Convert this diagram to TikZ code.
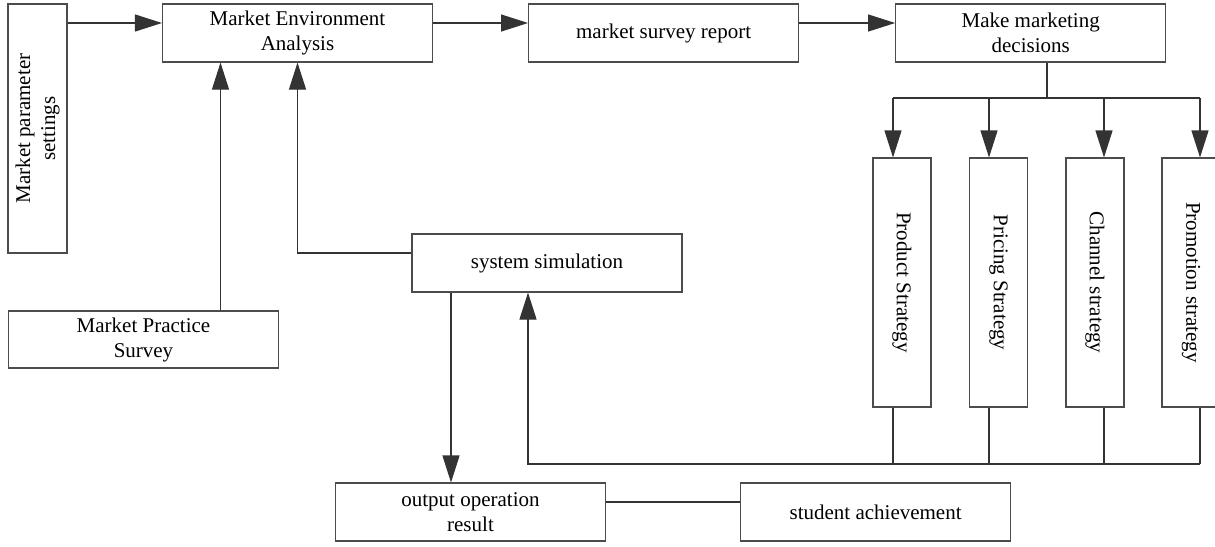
\documentclass[tikz,border=0pt]{standalone}
\usepackage{fontspec}
\setmainfont{Liberation Serif}
\usetikzlibrary{arrows.meta,positioning}

\begin{document}
\begin{tikzpicture}[x=1pt,y=-1pt,box/.style={draw=black!70,line width=1.1pt,align=center,minimum width=270pt,minimum height=58pt,inner sep=0pt,font=\fontsize{21}{25}\selectfont},vbox/.style={box,minimum width=249pt},link/.style={draw=black!80,line width=1.1pt},>={Triangle[length=27pt,width=17pt]}]
\useasboundingbox (0,0) rectangle (1215,546);
\node[vbox,rotate=90,minimum height=59pt] (par) at (37.5,128.5) {Market parameter\\settings};
\node[box] (mea) at (297.5,33) {Market Environment\\Analysis};
\node[box,right=95pt of mea] (msr) {market survey report};
\node[box,right=96pt of msr] (mmd) {Make marketing\\decisions};
\node[vbox,rotate=-90] (prod) at (902,282.5) {Product Strategy};
\node[vbox,rotate=-90] (pric) at (998.5,282.5) {Pricing Strategy};
\node[vbox,rotate=-90] (chan) at (1095,282.5) {Channel strategy};
\node[vbox,rotate=-90] (prom) at (1191,282.5) {Promotion strategy};
\node[box] (ss) at (547,263) {system simulation};
\node[box,minimum height=57pt] (mps) at (143.5,339.5) {Market Practice\\Survey};
\node[box] (oor) at (470.5,512) {output operation\\result};
\node[box,right=134pt of oor] (sa) {student achievement};
\coordinate (lane) at (0,23);
\coordinate (fork) at (1047,98);
\coordinate (bus) at (528,464);
\foreach \a/\b in {par.south/mea.west,mea.east/msr.west,msr.east/mmd.west}{\draw[link,->] (\a |- lane)--(\b |- lane);}
\draw[link] (mmd.south -| fork)--(fork);
\draw[link] ([xshift=-9pt]prod.west |- fork)--([xshift=9pt]prom.west |- fork);
\foreach \n/\dx in {prod/-9,pric/-9.5,chan/9,prom/9}{
  \draw[link,->] ([xshift=\dx pt]\n.west |- fork)--([xshift=\dx pt]\n.west);
  \draw[link] ([xshift=\dx pt]\n.east)--([xshift=\dx pt]\n.east |- bus);}
\draw[link,->] ([xshift=9pt]prom.east |- bus)--(bus)--(bus |- ss.south);
\draw[link,->] ([yshift=10pt]ss.west) -| (mea.south);
\draw[link,->] ([xshift=77pt]mps.north)--([xshift=77pt]mps.north |- mea.south);
\draw[link,->] ([xshift=-96pt]ss.south)--([xshift=-96pt]ss.south |- oor.north);
\draw[link] ([yshift=10pt]oor.east)--([yshift=10pt]sa.west);
\end{tikzpicture}
\end{document}
